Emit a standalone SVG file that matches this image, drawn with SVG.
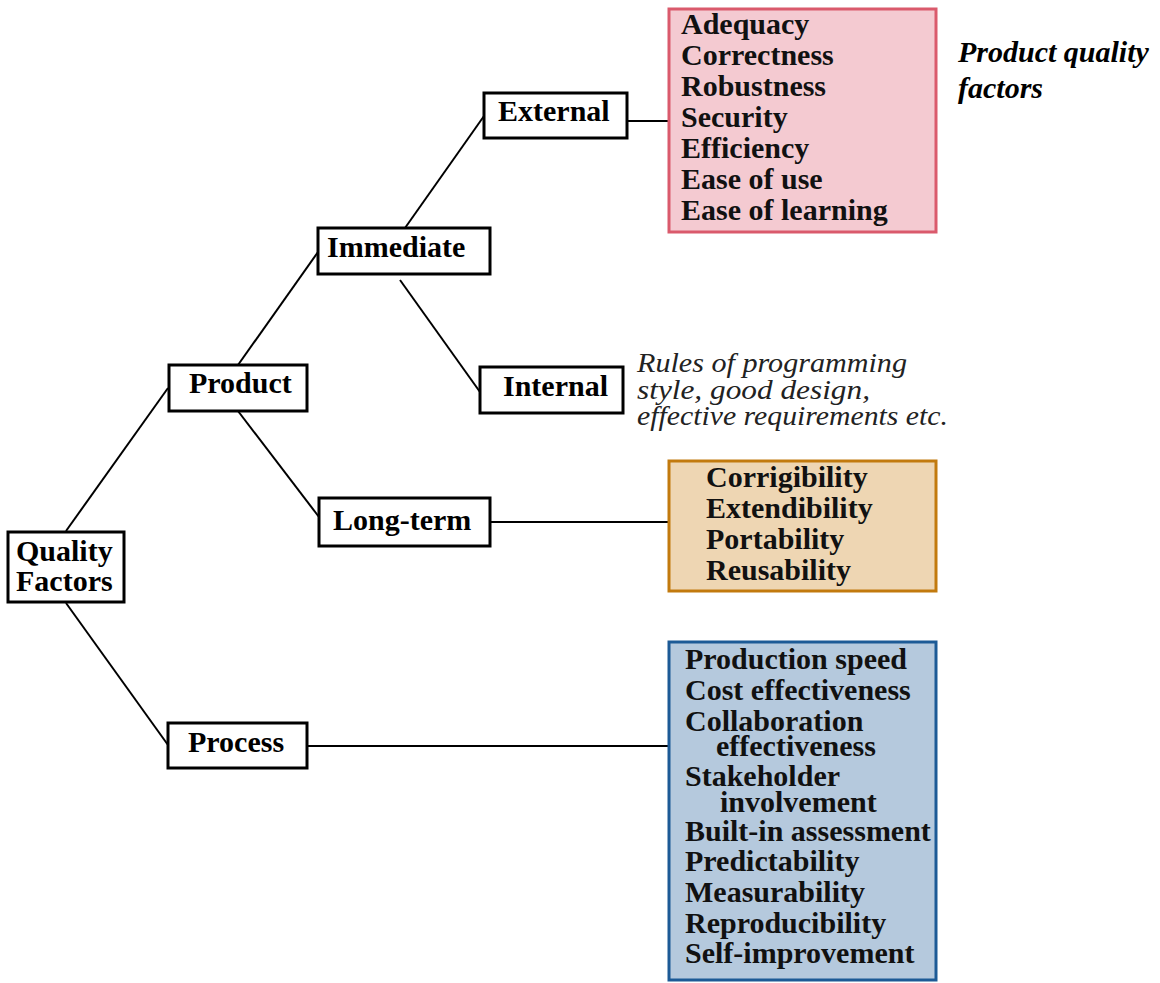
<svg xmlns="http://www.w3.org/2000/svg" width="1160" height="983" viewBox="0 0 1160 983">
<style>
.node{fill:#fff;stroke:#000;stroke-width:3}
.t{font-family:"Liberation Serif","Times New Roman",serif;font-weight:bold;font-size:30px;fill:#000}
.l{font-family:"Liberation Serif","Times New Roman",serif;font-weight:bold;font-size:30px;fill:#111}
.note{font-family:"Liberation Serif","Times New Roman",serif;font-style:italic;font-size:28px;fill:#222}
.bi{font-family:"Liberation Serif","Times New Roman",serif;font-style:italic;font-weight:bold;font-size:30px;fill:#000}
.c{stroke:#000;stroke-width:2;fill:none}
</style>
<rect width="1160" height="983" fill="#fff"/>
<g id="connectors">
<line class="c" x1="66" y1="531" x2="168" y2="388"/>
<line class="c" x1="66" y1="603" x2="168" y2="745"/>
<line class="c" x1="238" y1="365" x2="318" y2="252"/>
<line class="c" x1="238" y1="411" x2="319" y2="517"/>
<line class="c" x1="405" y1="228" x2="484" y2="116"/>
<line class="c" x1="400" y1="280" x2="480" y2="392"/>
<line class="c" x1="627" y1="121" x2="669" y2="121"/>
<line class="c" x1="490" y1="522" x2="669" y2="522"/>
<line class="c" x1="307" y1="746" x2="669" y2="746"/>
</g>
<g id="quality-factors">
<rect class="node" x="8" y="532" width="116" height="70"/>
<text class="t" x="16" y="561">Quality</text>
<text class="t" x="16" y="591">Factors</text>
</g>
<g id="product">
<rect class="node" x="169" y="365" width="138" height="46"/>
<text class="t" x="189" y="393">Product</text>
</g>
<g id="process">
<rect class="node" x="168" y="723" width="139" height="45"/>
<text class="t" x="188" y="752">Process</text>
</g>
<g id="immediate">
<rect class="node" x="318" y="228" width="172" height="46"/>
<text class="t" x="327" y="257">Immediate</text>
</g>
<g id="long-term">
<rect class="node" x="319" y="498" width="171" height="48"/>
<text class="t" x="333" y="530">Long-term</text>
</g>
<g id="external">
<rect class="node" x="484" y="93" width="143" height="45"/>
<text class="t" x="498" y="121">External</text>
</g>
<g id="internal">
<rect class="node" x="480" y="367" width="143" height="46"/>
<text class="t" x="503" y="396">Internal</text>
</g>
<g id="internal-note">
<text class="note" x="637" y="372" textLength="270" lengthAdjust="spacingAndGlyphs">Rules of programming</text>
<text class="note" x="637" y="399" textLength="233" lengthAdjust="spacingAndGlyphs">style, good design,</text>
<text class="note" x="637" y="425" textLength="311" lengthAdjust="spacingAndGlyphs">effective requirements etc.</text>
</g>
<g id="external-factors">
<rect x="669" y="9" width="267" height="223" fill="#F4CAD1" stroke="#DA5A6C" stroke-width="3"/>
<text class="l" x="681" y="34">Adequacy</text>
<text class="l" x="681" y="65">Correctness</text>
<text class="l" x="681" y="96">Robustness</text>
<text class="l" x="681" y="127">Security</text>
<text class="l" x="681" y="158">Efficiency</text>
<text class="l" x="681" y="189">Ease of use</text>
<text class="l" x="681" y="220">Ease of learning</text>
</g>
<g id="product-quality-label">
<text class="bi" x="958" y="62">Product quality</text>
<text class="bi" x="958" y="98">factors</text>
</g>
<g id="long-term-factors">
<rect x="669" y="461" width="267" height="130" fill="#EED6B3" stroke="#C27A0E" stroke-width="3"/>
<text class="l" x="706" y="487">Corrigibility</text>
<text class="l" x="706" y="518">Extendibility</text>
<text class="l" x="706" y="549">Portability</text>
<text class="l" x="706" y="580">Reusability</text>
</g>
<g id="process-factors">
<rect x="669" y="642" width="267" height="338" fill="#B5C9DD" stroke="#1C5A96" stroke-width="3"/>
<text class="l" x="685" y="669">Production speed</text>
<text class="l" x="685" y="700">Cost effectiveness</text>
<text class="l" x="685" y="731">Collaboration</text>
<text class="l" x="716" y="756">effectiveness</text>
<text class="l" x="685" y="786">Stakeholder</text>
<text class="l" x="720" y="812">involvement</text>
<text class="l" x="685" y="841">Built-in assessment</text>
<text class="l" x="685" y="871">Predictability</text>
<text class="l" x="685" y="902">Measurability</text>
<text class="l" x="685" y="933">Reproducibility</text>
<text class="l" x="685" y="963">Self-improvement</text>
</g>
</svg>
